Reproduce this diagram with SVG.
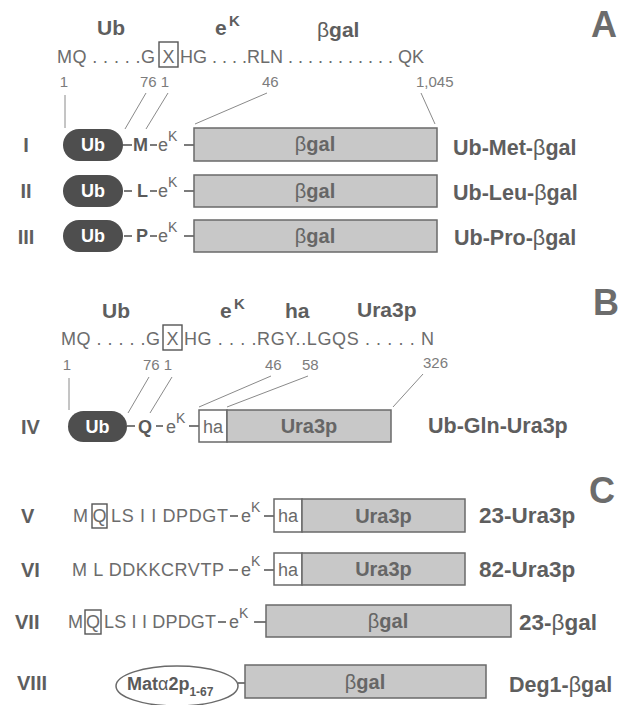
<svg xmlns="http://www.w3.org/2000/svg" width="633" height="705" viewBox="0 0 633 705">
<style>
text{font-family:"Liberation Sans",Arial,sans-serif}
.hdr{font-size:21px;font-weight:bold;fill:#5e5e5e}
.sup{font-size:15px;font-weight:bold;fill:#5e5e5e}
.seq{font-size:18px;fill:#6c6c6c}
.num{font-size:15px;fill:#7c7c7c}
.rn{font-size:20px;font-weight:bold;fill:#5e5e5e}
.lbl{font-size:21.5px;font-weight:bold;fill:#5e5e5e}
.lbl2{font-size:22.5px;font-weight:bold;fill:#5e5e5e}
.big{font-size:36px;font-weight:bold;fill:#6c6c6c}
.aa{font-size:18px;font-weight:bold;fill:#5a5a5a}
.ek{font-size:18px;fill:#6a6a6a}
.ks{font-size:14px;fill:#6a6a6a}
.pill{fill:#4e4e4e}
.pt{font-size:18px;font-weight:bold;fill:#ffffff;text-anchor:middle}
.box{fill:#c8c8c8;stroke:#6a6a6a;stroke-width:1.5}
.wbox{fill:#ffffff;stroke:#6a6a6a;stroke-width:1.5}
.bt{font-size:20px;font-weight:bold;fill:#666666;text-anchor:middle}
.ha{font-size:18px;fill:#6a6a6a;text-anchor:middle}
.sym{font-weight:normal}
.lead{stroke:#8a8a8a;stroke-width:1;fill:none}
.bond{stroke:#5a5a5a;stroke-width:1.6;fill:none}
.xb{fill:none;stroke:#555555;stroke-width:1.4}
</style>

<!-- Panel letters -->
<g id="panel-letters">
<text class="big" x="591" y="37">A</text>
<text class="big" x="593" y="315">B</text>
<text class="big" x="589" y="503">C</text>
</g>

<!-- Header A -->
<g id="header-A">
<text class="hdr" x="97" y="35">Ub</text>
<text class="hdr" x="215" y="35">e</text><text class="sup" x="229" y="26">K</text>
<text class="hdr" x="317" y="37"><tspan class="sym">β</tspan>gal</text>
<text class="seq" x="57" y="63" textLength="98" lengthAdjust="spacing">MQ . . . . .G</text>
<rect class="xb" x="159" y="42" width="19" height="25"/>
<text class="seq" x="168.5" y="63" text-anchor="middle">X</text>
<text class="seq" x="180" y="63" textLength="244" lengthAdjust="spacing">HG . . . .RLN . . . . . . . . . . . QK</text>
<text class="num" x="64" y="87" text-anchor="middle">1</text>
<text class="num" x="140" y="87">76 1</text>
<text class="num" x="262" y="87">46</text>
<text class="num" x="416" y="87">1,045</text>
</g>

<!-- Header B -->
<g id="header-B">
<text class="hdr" x="102" y="318">Ub</text>
<text class="hdr" x="220" y="318">e</text><text class="sup" x="234" y="309">K</text>
<text class="hdr" x="285" y="318">ha</text>
<text class="hdr" x="357" y="317">Ura3p</text>
<text class="seq" x="61" y="345" textLength="99" lengthAdjust="spacing">MQ . . . . .G</text>
<rect class="xb" x="163" y="325" width="19" height="25"/>
<text class="seq" x="172.5" y="345" text-anchor="middle">X</text>
<text class="seq" x="184" y="345" textLength="250" lengthAdjust="spacing">HG . . . .RGY..LGQS . . . . . N</text>
<text class="num" x="67" y="370" text-anchor="middle">1</text>
<text class="num" x="143" y="370">76 1</text>
<text class="num" x="265" y="370">46</text>
<text class="num" x="302" y="370">58</text>
<text class="num" x="423" y="368">326</text>
</g>

<!-- Connectors -->
<g id="connectors">
<line class="lead" x1="65" y1="95" x2="65" y2="128"/>
<line class="lead" x1="146" y1="93" x2="125" y2="129"/>
<line class="lead" x1="168" y1="93" x2="146" y2="129"/>
<line class="lead" x1="267" y1="93" x2="195" y2="124"/>
<line class="lead" x1="421" y1="93" x2="435" y2="124"/>
<line class="lead" x1="69" y1="378" x2="69" y2="410"/>
<line class="lead" x1="149" y1="377" x2="128" y2="413"/>
<line class="lead" x1="172" y1="377" x2="150" y2="413"/>
<line class="lead" x1="271" y1="376" x2="199" y2="407"/>
<line class="lead" x1="308" y1="376" x2="227" y2="407"/>
<line class="lead" x1="423" y1="374" x2="393" y2="407"/>
</g>

<!-- Row I -->
<g id="row-I">
<text class="rn" x="26" y="152" text-anchor="middle">I</text>
<rect class="pill" x="63" y="129" width="60" height="32" rx="16"/>
<text class="pt" x="93" y="151">Ub</text>
<line class="bond" x1="123" y1="145" x2="132" y2="145"/>
<text class="aa" x="133" y="151">M</text>
<line class="bond" x1="150" y1="145" x2="157" y2="145"/>
<text class="ek" x="158" y="151">e</text><text class="ks" x="168" y="141">K</text>
<line class="bond" x1="184" y1="145" x2="194" y2="145"/>
<rect class="box" x="194" y="128" width="243" height="33"/>
<text class="bt" x="315" y="151"><tspan class="sym">β</tspan>gal</text>
<text class="lbl" x="453" y="155">Ub-Met-<tspan class="sym">β</tspan>gal</text>
</g>

<!-- Row II -->
<g id="row-II">
<text class="rn" x="26" y="198" text-anchor="middle">II</text>
<rect class="pill" x="63" y="175" width="60" height="32" rx="16"/>
<text class="pt" x="93" y="197">Ub</text>
<line class="bond" x1="124" y1="191" x2="132" y2="191"/>
<text class="aa" x="137" y="197">L</text>
<line class="bond" x1="150" y1="191" x2="157" y2="191"/>
<text class="ek" x="158" y="197">e</text><text class="ks" x="168" y="187">K</text>
<line class="bond" x1="184" y1="191" x2="194" y2="191"/>
<rect class="box" x="194" y="175" width="243" height="32"/>
<text class="bt" x="315" y="198"><tspan class="sym">β</tspan>gal</text>
<text class="lbl" x="453" y="200">Ub-Leu-<tspan class="sym">β</tspan>gal</text>
</g>

<!-- Row III -->
<g id="row-III">
<text class="rn" x="26" y="244" text-anchor="middle">III</text>
<rect class="pill" x="63" y="220" width="60" height="32" rx="16"/>
<text class="pt" x="93" y="242">Ub</text>
<line class="bond" x1="124" y1="236" x2="132" y2="236"/>
<text class="aa" x="136" y="242">P</text>
<line class="bond" x1="150" y1="236" x2="157" y2="236"/>
<text class="ek" x="158" y="242">e</text><text class="ks" x="168" y="232">K</text>
<line class="bond" x1="184" y1="236" x2="194" y2="236"/>
<rect class="box" x="194" y="220" width="243" height="32"/>
<text class="bt" x="315" y="243"><tspan class="sym">β</tspan>gal</text>
<text class="lbl" x="454" y="245">Ub-Pro-<tspan class="sym">β</tspan>gal</text>
</g>

<!-- Row IV -->
<g id="row-IV">
<text class="rn" x="21" y="434">IV</text>
<rect class="pill" x="68" y="411" width="59" height="31" rx="15.5"/>
<text class="pt" x="97.5" y="433">Ub</text>
<line class="bond" x1="127" y1="426" x2="135" y2="426"/>
<text class="aa" x="138" y="433">Q</text>
<line class="bond" x1="156" y1="426" x2="163" y2="426"/>
<text class="ek" x="166" y="433">e</text><text class="ks" x="176" y="423">K</text>
<line class="bond" x1="189" y1="426" x2="199" y2="426"/>
<rect class="wbox" x="199" y="410" width="28" height="32"/>
<text class="ha" x="213" y="433">ha</text>
<rect class="box" x="227" y="410" width="164" height="32"/>
<text class="bt" x="309" y="433">Ura3p</text>
<text class="lbl" x="428" y="433">Ub-Gln-Ura3p</text>
</g>

<!-- Row V -->
<g id="row-V">
<text class="rn" x="21" y="523">V</text>
<text class="seq" x="73" y="522">M</text>
<rect class="xb" x="92" y="504" width="15" height="24"/>
<text class="seq" x="99.5" y="522" text-anchor="middle">Q</text>
<text class="seq" x="111" y="522" textLength="117" lengthAdjust="spacing">LS I I DPDGT</text>
<line class="bond" x1="230" y1="516" x2="238" y2="516"/>
<text class="ek" x="241" y="522">e</text><text class="ks" x="251" y="512">K</text>
<line class="bond" x1="264" y1="516" x2="274" y2="516"/>
<rect class="wbox" x="274" y="499" width="28" height="33"/>
<text class="ha" x="288" y="522">ha</text>
<rect class="box" x="302" y="499" width="163" height="33"/>
<text class="bt" x="383.5" y="523">Ura3p</text>
<text class="lbl2" x="479" y="523">23-Ura3p</text>
</g>

<!-- Row VI -->
<g id="row-VI">
<text class="rn" x="21" y="577">VI</text>
<text class="seq" x="72" y="576" textLength="152" lengthAdjust="spacing">M L DDKKCRVTP</text>
<line class="bond" x1="229" y1="570" x2="238" y2="570"/>
<text class="ek" x="241" y="576">e</text><text class="ks" x="251" y="566">K</text>
<line class="bond" x1="264" y1="570" x2="274" y2="570"/>
<rect class="wbox" x="274" y="553" width="28" height="32"/>
<text class="ha" x="288" y="576">ha</text>
<rect class="box" x="302" y="553" width="163" height="32"/>
<text class="bt" x="383.5" y="576">Ura3p</text>
<text class="lbl2" x="479" y="577">82-Ura3p</text>
</g>

<!-- Row VII -->
<g id="row-VII">
<text class="rn" x="15" y="629">VII</text>
<text class="seq" x="68" y="628">M</text>
<rect class="xb" x="85" y="610" width="16" height="24"/>
<text class="seq" x="93" y="628" text-anchor="middle">Q</text>
<text class="seq" x="104" y="628" textLength="112" lengthAdjust="spacing">LS I I DPDGT</text>
<line class="bond" x1="218" y1="622" x2="226" y2="622"/>
<text class="ek" x="229" y="628">e</text><text class="ks" x="239" y="618">K</text>
<line class="bond" x1="254" y1="622" x2="266" y2="622"/>
<rect class="box" x="266" y="605" width="245" height="32"/>
<text class="bt" x="388" y="628"><tspan class="sym">β</tspan>gal</text>
<text class="lbl2" x="519" y="630">23-<tspan class="sym">β</tspan>gal</text>
</g>

<!-- Row VIII -->
<g id="row-VIII">
<text class="rn" x="17" y="690">VIII</text>
<ellipse class="wbox" cx="177" cy="686" rx="61" ry="20"/>
<text class="aa" x="127" y="690" style="font-size:18px">Mat<tspan class="sym">α</tspan>2p<tspan dy="6" style="font-size:12px">1-67</tspan></text>
<line class="bond" x1="238" y1="683" x2="245" y2="683"/>
<rect class="box" x="245" y="665" width="241" height="33"/>
<text class="bt" x="365" y="689"><tspan class="sym">β</tspan>gal</text>
<text class="lbl" x="509" y="692">Deg1-<tspan class="sym">β</tspan>gal</text>
</g>
</svg>
